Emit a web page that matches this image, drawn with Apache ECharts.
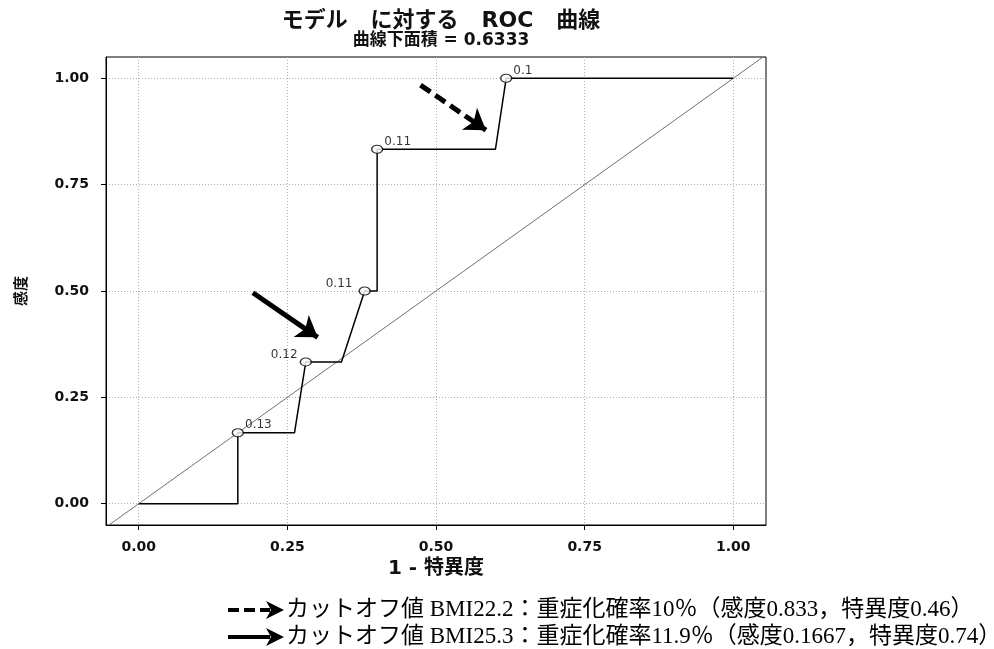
<!DOCTYPE html>
<html>
<head>
<meta charset="utf-8">
<title>ROC 曲線</title>
<script src="https://cdn.jsdelivr.net/npm/echarts@6/dist/echarts.min.js"></script>
<style>
  html, body { margin: 0; padding: 0; background: #fff; }
  #chart { width: 994px; height: 649px; }
</style>
</head>
<body>
<div id="chart"></div>
<script>
// ROC path: 1 - specificity (x) against sensitivity (y)
const rocX = [0, 0.1667, 0.1667, 0.262, 0.281, 0.341, 0.380, 0.401, 0.401, 0.600, 0.618, 1];
const rocY = [0, 0, 0.1667, 0.1667, 0.3333, 0.3333, 0.5, 0.5, 0.8333, 0.8333, 1, 1];

// Cut-off points marked on the curve, with their predicted probabilities
const cutX = [0.1667, 0.281, 0.380, 0.401, 0.618];
const cutY = [0.1667, 0.3333, 0.5, 0.8333, 1];
const cutLabels = ['0.13', '0.12', '0.11', '0.11', '0.1'];

// Chance line
const refX = [-0.055, 1.055];
const refY = [-0.055, 1.055];

// Axis ticks
const tickValues = [0, 0.25, 0.5, 0.75, 1];

// Annotation arrows (tail, tip) in data units
const dashedArrow = [[0.474, 0.984], [0.584, 0.878]];
const solidArrow = [[0.192, 0.496], [0.301, 0.391]];

// Text
const titleText = 'モデル   に対する   ROC   曲線';
const aucText = '曲線下面積 = 0.6333';
const xName = '1 - 特異度';
const yName = '感度';
const noteLines = [
  'カットオフ値 BMI22.2：重症化確率10％（感度0.833，特異度0.46）',
  'カットオフ値 BMI25.3：重症化確率11.9％（感度0.1667，特異度0.74）'
];

const SANS = '"DejaVu Sans", "Noto Sans CJK JP", sans-serif';
const SERIF = '"Liberation Serif", "Noto Sans CJK JP", serif';

const zip = (xs, ys) => xs.map((x, i) => [x, ys[i]]);

// labels sit to the left of the middle two markers, right elsewhere
const leftSide = { 1: 2, 2: 6 };
const cutData = cutX.map((x, i) => ({
  value: [x, cutY[i]],
  label: {
    show: true,
    formatter: cutLabels[i],
    position: leftSide[i] !== undefined ? 'left' : 'right',
    distance: leftSide[i] !== undefined ? leftSide[i] : 1,
    offset: [0, -7.5]
  }
}));

const gridLine = { show: true, lineStyle: { color: '#b0b0b0', type: [1, 2], width: 1 } };

const axisCommon = {
  type: 'value',
  min: -0.055,
  max: 1.055,
  axisLine: { show: true, onZero: false, lineStyle: { color: '#000', width: 1 } },
  axisTick: { show: true, inside: false, length: 5, customValues: tickValues, lineStyle: { color: '#000' } },
  axisLabel: {
    customValues: tickValues,
    formatter: v => v.toFixed(2),
    fontFamily: SANS, fontSize: 14, fontWeight: 'bold', color: '#111'
  },
  splitLine: gridLine
};

const arrowLine = (pts, dashed) => [
  { coord: pts[0], symbol: 'none' },
  { coord: pts[1], symbol: 'arrow', symbolSize: [20, 20],
    lineStyle: { color: '#000', width: 5, type: dashed ? [12, 6] : 'solid' } }
];

const chart = echarts.init(document.getElementById('chart'), null, { renderer: 'canvas' });

chart.setOption({
  animation: false,
  backgroundColor: '#fff',
  title: {
    text: titleText,
    subtext: aucText,
    left: 436,
    top: 5,
    textAlign: 'center',
    itemGap: 0,
    textStyle: { fontFamily: SANS, fontSize: 22, fontWeight: 'bold', color: '#111' },
    subtextStyle: { fontFamily: SANS, fontSize: 17, fontWeight: 'bold', color: '#111' }
  },
  grid: {
    left: 106, right: 228, top: 57, bottom: 124,
    show: true, borderColor: '#000', borderWidth: 1, backgroundColor: '#fff'
  },
  xAxis: Object.assign({}, axisCommon, {
    name: xName,
    nameLocation: 'middle',
    nameGap: 32,
    nameTextStyle: { fontFamily: SANS, fontSize: 20, fontWeight: 'bold', color: '#111' },
    axisLabel: Object.assign({}, axisCommon.axisLabel, { margin: 15 })
  }),
  yAxis: Object.assign({}, axisCommon, {
    min: -0.05,
    max: 1.05,
    name: yName,
    nameLocation: 'middle',
    nameGap: 76,
    nameTextStyle: { fontFamily: SANS, fontSize: 15, fontWeight: 'bold', color: '#111' },
    axisLabel: Object.assign({}, axisCommon.axisLabel, { margin: 17 })
  }),
  series: [
    {
      name: 'reference',
      type: 'line',
      data: zip(refX, refY),
      showSymbol: false,
      lineStyle: { color: '#707070', width: 1 },
      silent: true,
      z: 2
    },
    {
      name: 'ROC',
      type: 'line',
      data: zip(rocX, rocY),
      showSymbol: false,
      lineStyle: { color: '#000', width: 1.5 },
      silent: true,
      z: 3,
      markLine: {
        silent: true,
        label: { show: false },
        data: [arrowLine(dashedArrow, true), arrowLine(solidArrow, false)],
        z: 5
      }
    },
    {
      name: 'cutoff',
      type: 'scatter',
      data: cutData,
      symbol: 'circle',
      symbolSize: [11, 8],
      itemStyle: { color: '#fff', borderColor: '#000', borderWidth: 1.2 },
      label: { fontFamily: SANS, fontSize: 12, color: '#000' },
      z: 4
    }
  ],
  graphic: [
    // key for the annotation arrows
    { type: 'line', shape: { x1: 228, y1: 610, x2: 270, y2: 610 },
      style: { stroke: '#000', lineWidth: 4, lineDash: [11, 5] } },
    { type: 'polygon', shape: { points: [[266, 601], [284, 610], [266, 619], [271, 610]] },
      style: { fill: '#000' } },
    { type: 'text', x: 286, y: 610,
      style: { text: noteLines[0], font: '23px ' + SERIF, fill: '#000', verticalAlign: 'middle' } },
    { type: 'line', shape: { x1: 228, y1: 637, x2: 270, y2: 637 },
      style: { stroke: '#000', lineWidth: 4 } },
    { type: 'polygon', shape: { points: [[266, 628], [284, 637], [266, 646], [271, 637]] },
      style: { fill: '#000' } },
    { type: 'text', x: 286, y: 637,
      style: { text: noteLines[1], font: '23px ' + SERIF, fill: '#000', verticalAlign: 'middle' } }
  ]
});
</script>
</body>
</html>
